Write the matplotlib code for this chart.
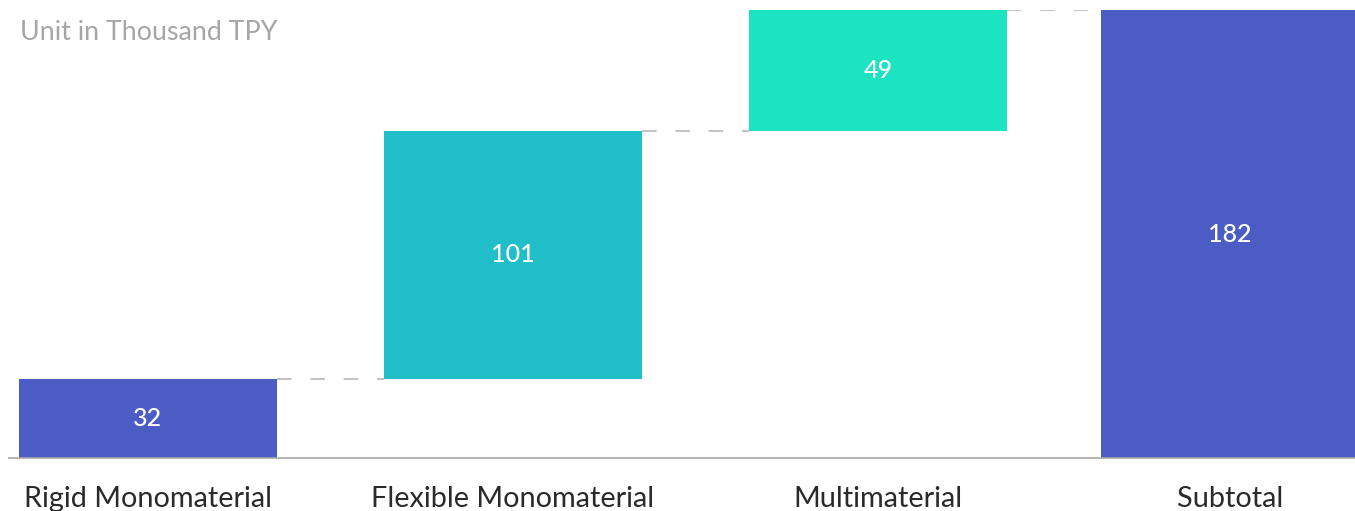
import numpy as np
import matplotlib.pyplot as plt

# ---- data ----
categories = ["Rigid Monomaterial", "Flexible Monomaterial", "Multimaterial", "Subtotal"]
values = [32, 101, 49, 182]
is_total = [False, False, False, True]
colors = ["#4B5CC4", "#1FBEC8", "#1CE3C0", "#4B5CC4"]

# ---- layout (pixels of the 1355x511 canvas) ----
W, H = 1355, 511
x_pos = np.array([0.0, 1.0, 2.0, 2.964])   # bar centres in units of bar spacing
bar_w = 0.707
axis_left_px = 9
base_px, top_px = 53, 501                  # from bottom

plt.rcParams['font.family'] = ['Lato', 'DejaVu Sans']

fig = plt.figure(figsize=(W / 100, H / 100), dpi=100)
ax = fig.add_axes([axis_left_px / W, base_px / H, 1 - axis_left_px / W, (top_px - base_px) / H])

# waterfall bottoms
bottoms = []
running = 0
for v, tot in zip(values, is_total):
    if tot:
        bottoms.append(0)
    else:
        bottoms.append(running)
        running += v

ax.bar(x_pos, values, bottom=bottoms, width=bar_w, color=colors, zorder=2)

# value labels
for x, v, b in zip(x_pos, values, bottoms):
    ax.text(x, b + v / 2, str(v), ha="center", va="center",
            color="white", fontsize=18, fontweight="medium", zorder=3)

# dashed connectors
tops = [b + v for b, v in zip(bottoms, values)]
for i in range(len(values) - 1):
    ax.plot([x_pos[i] + bar_w / 2, x_pos[i + 1] - bar_w / 2], [tops[i], tops[i]],
            ls=(0, (7, 9)), color="#c4c4c4", lw=1.5, zorder=1)

spacing_px = 365
ax.set_xlim(-(148 - axis_left_px) / spacing_px, (W - 148) / spacing_px)
ax.set_ylim(0, 182)

for s in ["top", "right", "left"]:
    ax.spines[s].set_visible(False)
ax.spines["bottom"].set_color("#a8a8a8")
ax.spines["bottom"].set_linewidth(1.2)
ax.set_yticks([])
ax.set_xticks(x_pos)
ax.set_xticklabels(categories, fontsize=20.8, color="#2a2a2a")
ax.tick_params(axis="x", length=0, pad=20)

fig.text(20 / W, 1 - 33 / H, "Unit in Thousand TPY", ha="left", va="center",
         fontsize=19.3, color="#a6a6a6")

fig.savefig("out.png", dpi=100)
